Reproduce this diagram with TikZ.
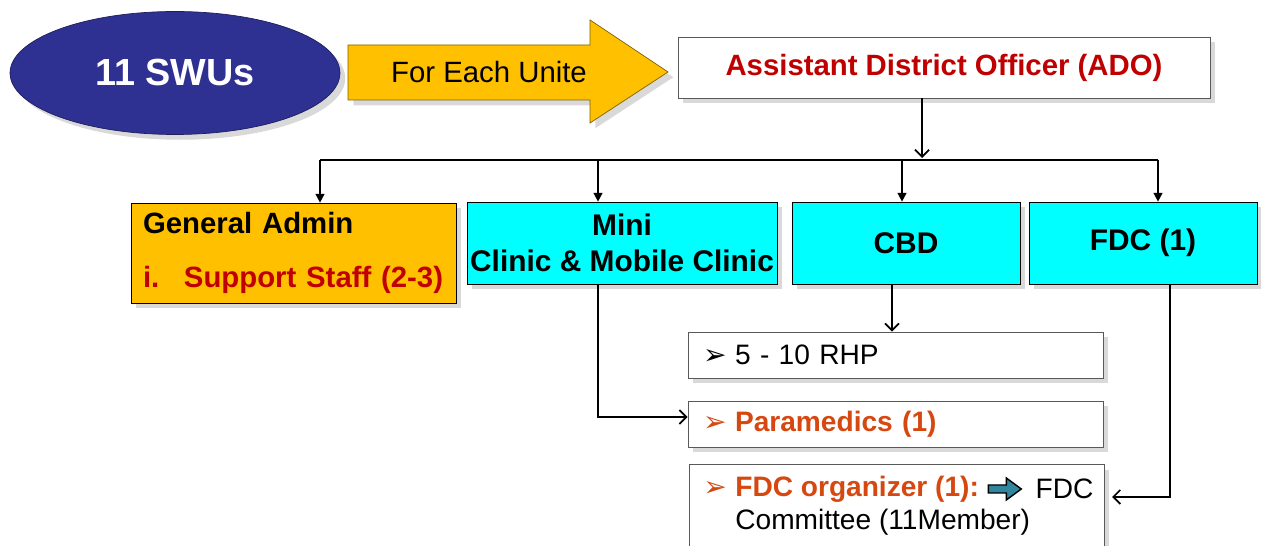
\documentclass[tikz,border=0pt]{standalone}
\usepackage{fontspec}
\setmainfont{Liberation Sans}
\newfontfamily\bulfont{DejaVu Sans}
\usetikzlibrary{positioning,shapes.geometric,shadows,arrows.meta}

\definecolor{swublue}{RGB}{46,49,146}
\definecolor{swuedge}{RGB}{30,30,90}
\definecolor{unityellow}{RGB}{255,192,0}
\definecolor{yellowedge}{RGB}{127,96,0}
\definecolor{unitcyan}{RGB}{0,255,255}
\definecolor{adored}{RGB}{192,0,0}
\definecolor{staffred}{RGB}{192,0,0}
\definecolor{paraorange}{RGB}{214,72,16}
\definecolor{arrowteal}{RGB}{49,133,156}

\newcommand{\bul}[1][black]{\makebox[18.2pt][l]{\bulfont\fontsize{16}{16}\selectfont\textcolor{#1}{➢}}}

\tikzset{
  shade/.style={drop shadow={opacity=0.3,shadow xshift=3pt,shadow yshift=-3pt}},
  box/.style={draw=black!65, fill=white, shade, inner sep=0pt},
  unit/.style={box, draw=black, fill=unitcyan, minimum width=4.56cm, minimum height=1.64cm,
    align=center, font=\bfseries\fontsize{17}{20.5}\selectfont},
  item/.style={box, minimum width=8.3cm, minimum height=0.92cm},
  itemtxt/.style={anchor=west, inner sep=0pt, font=\fontsize{16}{19}\selectfont},
  link/.style={line width=1pt, -{Straight Barb[length=4pt,width=8pt]}},
  drop/.style={line width=1pt, -{Triangle[length=5pt,width=5pt]}},
}

\begin{document}
\begin{tikzpicture}[x=0.02cm, y=-0.02cm]
  \useasboundingbox (0,0) rectangle (1261,546);

  % top row
  \node[ellipse, draw=swuedge, fill=swublue, shade, minimum width=6.6cm, minimum height=2.46cm,
    inner sep=0pt, text=white, font=\bfseries\fontsize{21.5}{24}\selectfont] (swu) at (175,73) {11 SWUs};
  \filldraw[fill=unityellow, draw=yellowedge, shade] (348,45) -- (590,45) -- (590,20) -- (668,72)
    -- (590,123) -- (590,100) -- (348,100) -- cycle;
  \node[font=\fontsize{16.7}{19}\selectfont] (each) at (489,72) {For Each Unite};
  \node[box, minimum width=10.64cm, minimum height=1.22cm, text=adored,
    font=\bfseries\fontsize{16.7}{20}\selectfont] (ado) at (944,67.5) {Assistant District Officer (ADO)};

  % units
  \node[box, draw=black, fill=unityellow, minimum width=6.5cm, minimum height=2cm, text width=6.02cm,
    align=left, font=\bfseries\fontsize{16.7}{19}\selectfont] (admin) at (293.5,253)
    {General Admin\\[12pt]\textcolor{staffred}{i.\hspace{14pt}Support Staff (2-3)}};
  \node[unit, minimum width=6.2cm] (mini) at (622,243) {Mini\\Clinic \& Mobile Clinic};
  \node[unit] (cbd) at (906,243) {CBD};
  \node[unit] (fdc) at (1143,243) {FDC (1)};

  % staff
  \node[item, text width=7.7cm, align=left, font=\fontsize{16}{19}\selectfont] (rhp) at (895.5,355)
    {\bul 5 - 10 RHP};
  \node[item, text width=7.7cm, align=left, text=paraorange, font=\bfseries\fontsize{16}{19}\selectfont]
    (para) at (895.5,424) {\bul[paraorange]Paramedics (1)};
  \node[item, minimum height=2.3cm] (org) at (896.5,522) {};
  \node[itemtxt, text=paraorange, font=\bfseries\fontsize{16}{19}\selectfont] (orgA) at (703,489)
    {\bul[paraorange]FDC organizer (1):};
  \filldraw[fill=arrowteal, draw=black, thick, shift={(orgA.east)}] (9,-4) -- (27,-4) -- (27,-11)
    -- (42,0) -- (27,11) -- (27,4) -- (9,4) -- cycle;
  \node[itemtxt, right=1.12cm of orgA.east] (orgB) {FDC};
  \node[itemtxt] (orgC) at (735,522) {Committee (11Member)};

  % connectors
  \coordinate (dT) at (922,158);
  \coordinate (dA) at (320,160);
  \coordinate (dM) at (598,160);
  \coordinate (dC) at (902,160);
  \coordinate (dF) at (1158,160);
  \draw[link] (ado.south -| dT) -- (dT);
  \draw[line width=1pt] (dA) -- (dF);
  \foreach \d/\n in {dA/admin, dM/mini, dC/cbd, dF/fdc}
    \draw[drop] (\d) -- (\d |- \n.north);
  \draw[link] (mini.south -| dM) |- ([yshift=4pt]para.west);
  \coordinate (cD) at (892,300);
  \draw[link] (cbd.south -| cD) -- (rhp.north -| cD);
  \coordinate (fD) at (1170,497);
  \coordinate (oE) at (1112,497);
  \draw[link] (fdc.south -| fD) |- (oE);
\end{tikzpicture}
\end{document}
